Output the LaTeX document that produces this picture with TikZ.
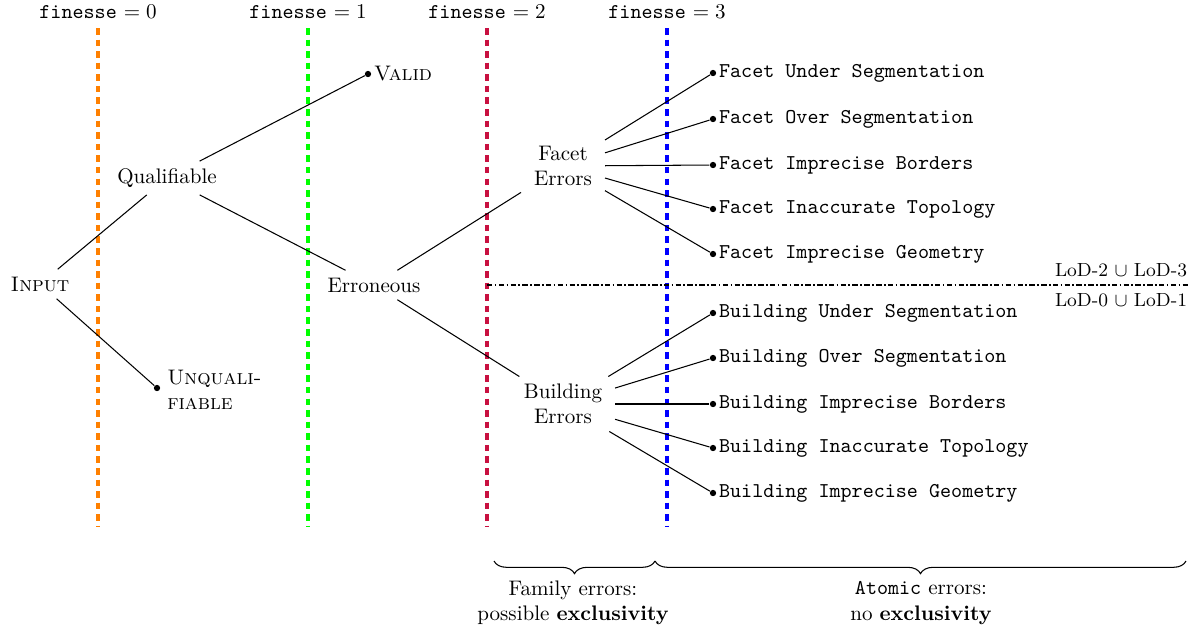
\documentclass[tikz,border=0pt]{standalone}
\usetikzlibrary{decorations.pathreplacing}
\definecolor{finorange}{RGB}{255,128,0}
\definecolor{fingreen}{RGB}{0,255,0}
\definecolor{finred}{RGB}{200,16,64}
\definecolor{finblue}{RGB}{0,0,255}
\begin{document}
\begin{tikzpicture}[x=0.475pt,y=-0.475pt,
 dot/.style={circle,fill,inner sep=0pt,minimum size=3pt},
 leaflab/.style={font=\ttfamily,inner sep=1pt},
 inner/.style={align=center,inner xsep=6pt},
 fin/.style={line width=1.5pt,dash pattern=on 3.1pt off 2.4pt},
 edgeline/.style={line width=0.5pt},
 lodline/.style={line width=1.2pt,dash pattern=on 2.6pt off 1.1pt on 0.8pt off 1.1pt},
 bracedec/.style={decorate,decoration={brace,mirror,amplitude=6pt},line width=0.5pt}
]
\useasboundingbox (0,0) rectangle (1190,627);

% finesse lines
\node (t0) at (98,12) {\texttt{finesse} $=0$};
\node (t1) at (308,12) {\texttt{finesse} $=1$};
\node (t2) at (487,12) {\texttt{finesse} $=2$};
\node (t3) at (667,12) {\texttt{finesse} $=3$};
\coordinate (f0a) at (98,28); \coordinate (f0b) at (98,527);
\coordinate (f1a) at (308,28); \coordinate (f1b) at (308,527);
\coordinate (f2a) at (487,28); \coordinate (f2b) at (487,527);
\coordinate (f3a) at (667,28); \coordinate (f3b) at (667,527);
\draw[fin,finorange] (f0a) -- (f0b);
\draw[fin,fingreen] (f1a) -- (f1b);
\draw[fin,finred] (f2a) -- (f2b);
\draw[fin,finblue] (f3a) -- (f3b);

% LoD separator
\coordinate (loda) at (487,285); \coordinate (lodb) at (1190,285);
\draw[lodline] (loda) -- (lodb);
\node[font=\small] (lodup) at (1121,270) {LoD-2 $\cup$ LoD-3};
\node[font=\small] (loddn) at (1121,300) {LoD-0 $\cup$ LoD-1};

% tree nodes
\node (input) at (40,284) {\textsc{Input}};
\node (qual) at (167,178) {Qualifiable};
\node[dot,label={[inner sep=1pt]right:\textsc{Valid}}] (valid) at (368,74) {};
\node[dot] (unq) at (157,388) {};
\node[align=left,anchor=west,inner sep=1pt] (unqlab) at ([xshift=2pt,yshift=-1pt]unq.east) {\textsc{Unquali-}\\\textsc{fiable}};
\node (err) at (374,285) {Erroneous};
\node[inner] (facet) at (563,166) {Facet\\Errors};
\node[inner] (build) at (563,404) {Building\\Errors};

\draw[edgeline] (input) -- (qual);
\draw[edgeline] (input) -- (unq);
\draw[edgeline] (qual) -- (valid);
\draw[edgeline] (qual) -- (err);
\draw[edgeline] (err) -- (facet);
\draw[edgeline] (err) -- (build);

% facet leaves
\node[dot,label={[leaflab]right:Facet Under Segmentation}] (fl1) at (713,73) {};
\node[dot,label={[leaflab]right:Facet Over Segmentation}] (fl2) at (713,119) {};
\node[dot,label={[leaflab]right:Facet Imprecise Borders}] (fl3) at (713,165) {};
\node[dot,label={[leaflab]right:Facet Inaccurate Topology}] (fl4) at (713,209) {};
\node[dot,label={[leaflab]right:Facet Imprecise Geometry}] (fl5) at (713,254) {};
\foreach \i in {1,...,5} \draw[edgeline] (facet) -- (fl\i);

% building leaves
\node[dot,label={[leaflab]right:Building Under Segmentation}] (bl1) at (713,313) {};
\node[dot,label={[leaflab]right:Building Over Segmentation}] (bl2) at (713,358) {};
\node[dot,label={[leaflab]right:Building Imprecise Borders}] (bl3) at (713,404) {};
\node[dot,label={[leaflab]right:Building Inaccurate Topology}] (bl4) at (713,448) {};
\node[dot,label={[leaflab]right:Building Imprecise Geometry}] (bl5) at (713,493) {};
\foreach \i in {1,...,5} \draw[edgeline] (build) -- (bl\i);

% braces
\coordinate (b1a) at (494,561); \coordinate (b1b) at (655,561);
\coordinate (b2a) at (655,561); \coordinate (b2b) at (1186,561);
\draw[bracedec] (b1a) -- (b1b);
\draw[bracedec] (b2a) -- (b2b);
\node[align=center] (fam) at (573,603) {Family errors:\\possible \textbf{exclusivity}};
\node[align=center] (atom) at (921,603) {\texttt{Atomic} errors:\\no \textbf{exclusivity}};
\end{tikzpicture}
\end{document}
